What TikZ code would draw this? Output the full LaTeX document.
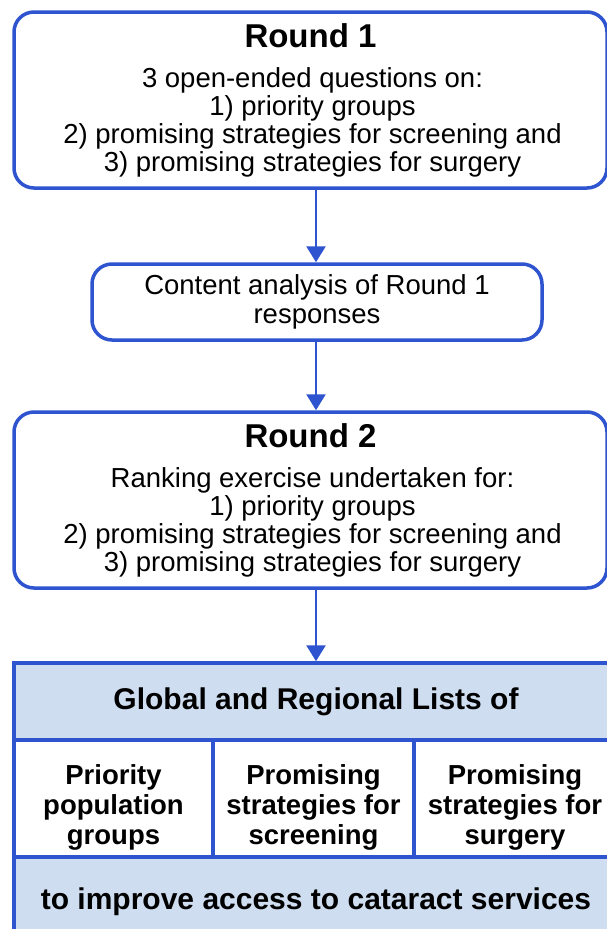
\documentclass[tikz,border=0pt]{standalone}
\usepackage{fontspec}
\setmainfont{Liberation Sans}
\usetikzlibrary{arrows.meta}
\definecolor{flowblue}{RGB}{47,84,208}
\definecolor{bandblue}{RGB}{207,221,240}
\begin{document}
\begin{tikzpicture}[x=1pt,y=-1pt,
  roundbox/.style={draw=flowblue,line width=3.5pt,rounded corners=20pt,fill=white,align=center,inner sep=0pt},
  cellbox/.style={draw=flowblue,line width=3.5pt,align=center,inner sep=0pt},
  celltext/.style={align=center,inner sep=0pt,font=\fontsize{27.5}{30}\selectfont\bfseries},
  flowarrow/.style={draw=flowblue,line width=2.5pt,-{Triangle[length=16pt,width=19pt]}},
  bodytext/.style={font=\fontsize{27.5}{28}\selectfont}]
\useasboundingbox (0,0) rectangle (607,929);
\clip (0,0) rectangle (607,929);
\fill[white] (0,0) rectangle (607,929);
\coordinate (ax) at (316,0);
% boxes
\node[roundbox,bodytext,minimum width=593pt,minimum height=176pt] (r1) at (310.5,100)
  {{\fontsize{33}{34}\selectfont\bfseries Round 1}\\[12pt]
   \hspace*{4pt}3 open-ended questions on:\\\hspace*{4pt}1) priority groups\\\hspace*{4pt}2) promising strategies for screening and\\\hspace*{4pt}3) promising strategies for surgery};
\node[roundbox,font=\fontsize{27.5}{29}\selectfont,minimum width=450pt,minimum height=76pt] (ca) at (317,302)
  {Content analysis of Round 1\\responses};
\node[roundbox,bodytext,minimum width=593pt,minimum height=176pt] (r2) at (310.5,500)
  {{\fontsize{33}{34}\selectfont\bfseries Round 2}\\[12pt]
   \hspace*{4pt}Ranking exercise undertaken for:\\\hspace*{4pt}1) priority groups\\\hspace*{4pt}2) promising strategies for screening and\\\hspace*{4pt}3) promising strategies for surgery};
% table
\node[cellbox,fill=bandblue,font=\fontsize{30}{32}\selectfont\bfseries,minimum width=598pt,minimum height=77pt] (hd) at (313,701.5)
  {\hspace*{6pt}Global and Regional Lists of};
\node[cellbox,fill=white,minimum width=199pt,minimum height=117pt] (c1) at (113.5,798.5) {};
\node[cellbox,fill=white,minimum width=201pt,minimum height=117pt] (c2) at (313.5,798.5) {};
\node[cellbox,fill=white,minimum width=198pt,minimum height=117pt] (c3) at (513,798.5) {};
\node[celltext] (c1t) at (113.5,807) {Priority\\population\\groups};
\node[celltext] (c2t) at (313.5,807) {Promising\\strategies for\\screening};
\node[celltext] (c3t) at (515,807) {Promising\\strategies for\\surgery};
\node[cellbox,fill=bandblue,font=\fontsize{30}{32}\selectfont\bfseries,minimum width=598pt,minimum height=90pt] (bt) at (313,902)
  {\hspace*{6pt}to improve access to cataract services};
% arrows
\draw[flowarrow] (r1.south -| ax) -- (ca.north -| ax);
\draw[flowarrow] (ca.south -| ax) -- (r2.north -| ax);
\draw[flowarrow] (r2.south -| ax) -- (hd.north -| ax);
\end{tikzpicture}
\end{document}
